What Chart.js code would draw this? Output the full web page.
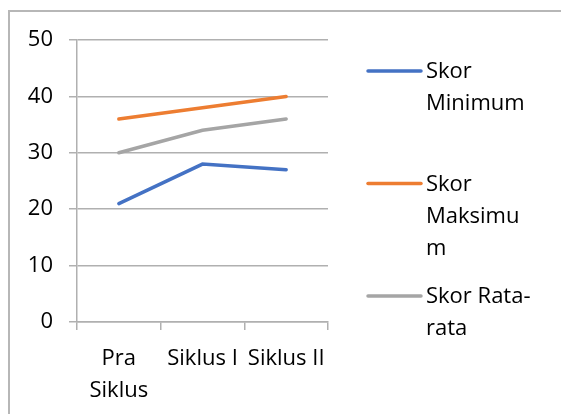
<!DOCTYPE html>
<html>
<head>
<meta charset="utf-8">
<script src="https://cdn.jsdelivr.net/npm/chart.js@4/dist/chart.umd.min.js"></script>
<style>
  html, body { margin: 0; padding: 0; background: #fff; }
  #wrap { position: relative; width: 561px; height: 414px; overflow: hidden; }
  #frame { position: absolute; left: 8px; top: 10px; width: 700px; height: 600px; border-left: 2px solid #b7b7b7; border-top: 2px solid #b7b7b7; }
  canvas { position: absolute; left: 0; top: 0; }
</style>
</head>
<body>
<div id="wrap">
  <div id="frame"></div>
  <canvas id="chart" width="561" height="414"></canvas>
</div>
<script>
const categories = [["Pra", "Siklus"], "Siklus I", "Siklus II"];
const seriesNames = ["Skor Minimum", "Skor Maksimum", "Skor Rata-rata"];
const legendLines = [["Skor", "Minimum"], ["Skor", "Maksimu", "m"], ["Skor Rata-", "rata"]];
const skorMinimum = [21, 28, 27];
const skorMaksimum = [36, 38, 40];
const skorRata = [30, 34, 36];
const yTicks = [0, 10, 20, 30, 40, 50];

const colors = ["#4472c4", "#ed7d31", "#a5a5a5"];
const font = { family: "'Open Sans', sans-serif", size: 22, lineHeight: 1.45 };
const gridColor = "#b0b0b0";

// legend drawn on the canvas, to the right of the plot
const sideLegend = {
  id: "sideLegend",
  afterDraw(chart) {
    const ctx = chart.ctx;
    const area = chart.chartArea;
    const x0 = area.right + 40;
    ctx.save();
    ctx.font = font.size + "px " + font.family;
    ctx.textBaseline = "middle";
    ctx.fillStyle = "#000";
    legendLines.forEach((lines, i) => {
      const y = area.top + 31 + i * 112.5;
      ctx.strokeStyle = colors[i];
      ctx.lineWidth = 3.5;
      ctx.lineCap = "round";
      ctx.beginPath();
      ctx.moveTo(x0, y);
      ctx.lineTo(x0 + 53, y);
      ctx.stroke();
      lines.forEach((t, j) => ctx.fillText(t, x0 + 58, y + 1 + j * 32));
    });
    ctx.restore();
  }
};

const makeSet = (label, data, i) => ({
  label, data,
  borderColor: colors[i],
  backgroundColor: colors[i],
  borderWidth: 3.5,
  borderCapStyle: "round",
  pointRadius: 0,
  tension: 0
});

new Chart(document.getElementById("chart"), {
  type: "line",
  data: {
    labels: categories,
    datasets: [
      makeSet(seriesNames[0], skorMinimum, 0),
      makeSet(seriesNames[1], skorMaksimum, 1),
      makeSet(seriesNames[2], skorRata, 2)
    ]
  },
  options: {
    responsive: false,
    animation: false,
    layout: { padding: { left: 0, top: 40, right: 233, bottom: 0 } },
    plugins: { legend: { display: false }, tooltip: { enabled: false } },
    scales: {
      x: {
        offset: true,
        grid: { offset: true, drawOnChartArea: false, drawTicks: true, tickLength: 8, color: gridColor, lineWidth: 1.5 },
        border: { color: gridColor, width: 1.5 },
        ticks: { color: "#000", font, padding: 13, maxRotation: 0, autoSkip: false },
        afterFit(scale) { scale.height = 92; }
      },
      y: {
        min: 0, max: 50,
        afterBuildTicks(scale) { scale.ticks = yTicks.map((v) => ({ value: v })); },
        grid: { color: gridColor, lineWidth: 1.5, tickLength: 8 },
        border: { color: gridColor, width: 1.5 },
        ticks: { color: "#000", font, padding: 16 },
        afterFit(scale) { scale.width = 77; }
      }
    }
  },
  plugins: [sideLegend]
});
</script>
</body>
</html>
